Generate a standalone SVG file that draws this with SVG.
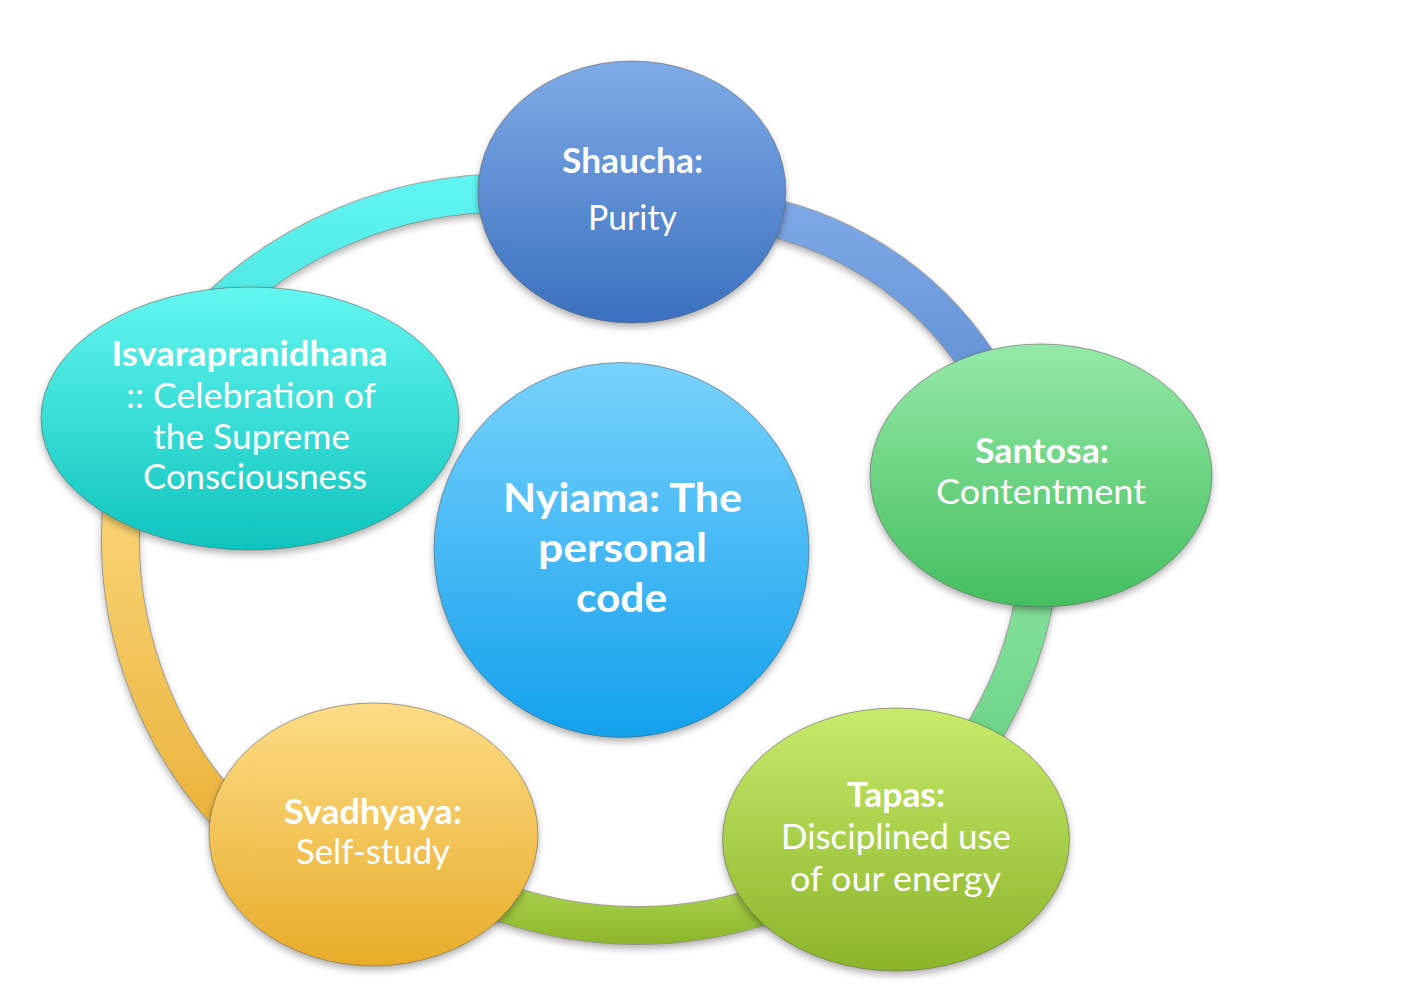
<svg xmlns="http://www.w3.org/2000/svg" width="1418" height="989" viewBox="0 0 1418 989">
<defs>
<filter id="sh" x="-20%" y="-20%" width="140%" height="140%">
<feDropShadow dx="0" dy="4" stdDeviation="3.5" flood-color="#000" flood-opacity="0.3"/>
</filter>
<linearGradient id="gShaucha" x1="0" y1="0" x2="0" y2="1"><stop offset="0" stop-color="#80ABE8"/><stop offset="1" stop-color="#3A70BE"/></linearGradient>
<linearGradient id="gSantosa" x1="0" y1="0" x2="0" y2="1"><stop offset="0" stop-color="#95E9A8"/><stop offset="1" stop-color="#45BE60"/></linearGradient>
<linearGradient id="gTapas" x1="0" y1="0" x2="0" y2="1"><stop offset="0" stop-color="#C7EA6B"/><stop offset="1" stop-color="#8CB42A"/></linearGradient>
<linearGradient id="gSvad" x1="0" y1="0" x2="0" y2="1"><stop offset="0" stop-color="#FDDC86"/><stop offset="1" stop-color="#E8AC2A"/></linearGradient>
<linearGradient id="gIsvara" x1="0" y1="0" x2="0" y2="1"><stop offset="0" stop-color="#64F6F0"/><stop offset="1" stop-color="#0FC4BD"/></linearGradient>
<linearGradient id="gCenter" x1="0" y1="0" x2="0" y2="1"><stop offset="0" stop-color="#78D2FD"/><stop offset="1" stop-color="#14A0EC"/></linearGradient>
<linearGradient id="bCyan" gradientUnits="userSpaceOnUse" x1="0" y1="175" x2="0" y2="330"><stop offset="0" stop-color="#61F5F1"/><stop offset="1" stop-color="#4DE6E1"/></linearGradient>
<linearGradient id="bBlue" gradientUnits="userSpaceOnUse" x1="0" y1="200" x2="0" y2="380"><stop offset="0" stop-color="#7EA9E7"/><stop offset="1" stop-color="#6493D7"/></linearGradient>
<linearGradient id="bGreen" gradientUnits="userSpaceOnUse" x1="0" y1="585" x2="0" y2="745"><stop offset="0" stop-color="#86E19C"/><stop offset="1" stop-color="#6DD489"/></linearGradient>
<linearGradient id="bLime" gradientUnits="userSpaceOnUse" x1="0" y1="885" x2="0" y2="945"><stop offset="0" stop-color="#ABD34E"/><stop offset="1" stop-color="#8DB52A"/></linearGradient>
<linearGradient id="bYellow" gradientUnits="userSpaceOnUse" x1="0" y1="468" x2="0" y2="836"><stop offset="0" stop-color="#FAD77C"/><stop offset="1" stop-color="#EBB23A"/></linearGradient>
</defs>
<style>
.edge{fill:none;stroke:#6a6a6a;stroke-opacity:0.6;stroke-width:39;stroke-linecap:butt}
.band{fill:none;stroke-width:37;stroke-linecap:butt}
.node{stroke:#5a5a5a;stroke-opacity:0.55;stroke-width:1;filter:url(#sh)}
text{font-family:Lato,"Liberation Sans",sans-serif;fill:#ffffff;text-anchor:middle;font-size:35px}
.b{font-weight:bold}
.c{font-weight:bold;font-size:41px}
</style>
<g id="connectors">
<g filter="url(#sh)">
<path class="edge" d="M 198,327.8 A 424 424 0 0 1 522.8,193.3"/>
<path class="band" stroke="url(#bCyan)" d="M 198,327.8 A 424 424 0 0 1 522.8,193.3"/>
<path class="edge" d="M 756.6,214.3 A 344 344 0 0 1 988.9,380"/>
<path class="band" stroke="url(#bBlue)" d="M 756.6,214.3 A 344 344 0 0 1 988.9,380"/>
<path class="edge" d="M 1036.6,586.5 A 400 400 0 0 1 975.6,745.5"/>
<path class="band" stroke="url(#bGreen)" d="M 1036.6,586.5 A 400 400 0 0 1 975.6,745.5"/>
<path class="edge" d="M 790.8,895.6 A 410.5 410.5 0 0 1 476.6,892.9"/>
<path class="band" stroke="url(#bLime)" d="M 790.8,895.6 A 410.5 410.5 0 0 1 476.6,892.9"/>
<path class="edge" d="M 249.8,836.3 A 406.5 406.5 0 0 1 126.7,468.4"/>
<path class="band" stroke="url(#bYellow)" d="M 249.8,836.3 A 406.5 406.5 0 0 1 126.7,468.4"/>
</g>
</g>
<g id="node-shaucha">
<ellipse class="node" cx="632" cy="192" rx="154" ry="131" fill="url(#gShaucha)"/>
<text class="b" x="632.5" y="173" textLength="141" lengthAdjust="spacingAndGlyphs">Shaucha:</text>
<text x="632.5" y="230" textLength="89" lengthAdjust="spacingAndGlyphs">Purity</text>
</g>
<g id="node-santosa">
<ellipse class="node" cx="1041" cy="475.5" rx="171" ry="131.5" fill="url(#gSantosa)"/>
<text class="b" x="1042" y="463" textLength="134" lengthAdjust="spacingAndGlyphs">Santosa:</text>
<text x="1041" y="504" textLength="210" lengthAdjust="spacingAndGlyphs">Contentment</text>
</g>
<g id="node-tapas">
<ellipse class="node" cx="896" cy="839.5" rx="173.5" ry="131.5" fill="url(#gTapas)"/>
<text class="b" x="896" y="807" textLength="98" lengthAdjust="spacingAndGlyphs">Tapas:</text>
<text x="896" y="849" textLength="230" lengthAdjust="spacingAndGlyphs">Disciplined use</text>
<text x="895.5" y="891" textLength="211" lengthAdjust="spacingAndGlyphs">of our energy</text>
</g>
<g id="node-svadhyaya">
<ellipse class="node" cx="373.5" cy="834.5" rx="164.5" ry="131.5" fill="url(#gSvad)"/>
<text class="b" x="373" y="824" textLength="178" lengthAdjust="spacingAndGlyphs">Svadhyaya:</text>
<text x="373" y="864" textLength="154" lengthAdjust="spacingAndGlyphs">Self-study</text>
</g>
<g id="node-isvara">
<ellipse class="node" cx="250" cy="418.5" rx="209" ry="131.5" fill="url(#gIsvara)"/>
<text class="b" x="249.5" y="366" textLength="276" lengthAdjust="spacingAndGlyphs">Isvarapranidhana</text>
<text x="251" y="408" textLength="250" lengthAdjust="spacingAndGlyphs">:: Celebration of</text>
<text x="251.5" y="449" textLength="197" lengthAdjust="spacingAndGlyphs">the Supreme</text>
<text x="255" y="489" textLength="224" lengthAdjust="spacingAndGlyphs">Consciousness</text>
</g>
<g id="node-center">
<circle class="node" cx="621.5" cy="550" r="187.5" fill="url(#gCenter)"/>
<text class="c" x="622.5" y="512" textLength="239" lengthAdjust="spacingAndGlyphs">Nyiama: The</text>
<text class="c" x="622.5" y="562" textLength="169" lengthAdjust="spacingAndGlyphs">personal</text>
<text class="c" x="621.5" y="612" textLength="91" lengthAdjust="spacingAndGlyphs">code</text>
</g>
</svg>
